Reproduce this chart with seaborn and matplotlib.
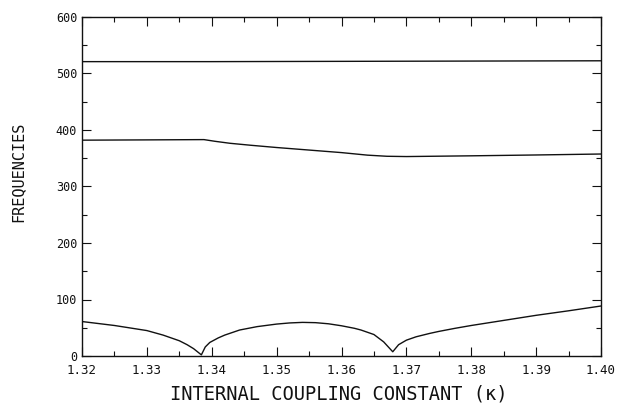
import numpy as np
import pandas as pd
import matplotlib
matplotlib.use("Agg")
import matplotlib.pyplot as plt
import seaborn as sns
from matplotlib.ticker import MultipleLocator

# --- data -------------------------------------------------------------------
kappa_high = [1.32, 1.34, 1.36, 1.38, 1.40]
freq_high = [521, 521, 521.5, 522, 522.5]

kappa_mid = [1.32, 1.33, 1.3388, 1.3405, 1.3428, 1.346, 1.35, 1.355, 1.36,
             1.364, 1.367, 1.37, 1.38, 1.39, 1.40]
freq_mid = [382, 382.5, 383, 380, 376.5, 373, 369, 364.5, 360,
            355.5, 353.5, 353, 354.3, 355.8, 357.5]

kappa_low = [1.32, 1.325, 1.33, 1.3325, 1.335, 1.3362, 1.3372, 1.3384,
             1.3390, 1.3397, 1.341, 1.342, 1.3443, 1.347, 1.35, 1.352,
             1.354, 1.356, 1.358, 1.36, 1.362, 1.363, 1.365, 1.3665, 1.3679,
             1.3688, 1.370, 1.3715, 1.3736, 1.375, 1.3775, 1.38, 1.385,
             1.39, 1.395, 1.40]
freq_low = [61, 54, 45, 37, 27, 20, 13, 2,
            16, 24, 32, 37, 46, 52, 56.5, 58.5,
            59.5, 59, 57, 53.5, 49, 46, 38, 25, 7.5,
            20, 28, 34, 40, 43.5, 49, 54, 63,
            72, 80, 88.5]

x_ticks = [1.32, 1.33, 1.34, 1.35, 1.36, 1.37, 1.38, 1.39, 1.40]
y_ticks = [0, 100, 200, 300, 400, 500, 600]

df = pd.concat([
    pd.DataFrame({"kappa": kappa_high, "freq": freq_high, "mode": "high"}),
    pd.DataFrame({"kappa": kappa_mid, "freq": freq_mid, "mode": "mid"}),
    pd.DataFrame({"kappa": kappa_low, "freq": freq_low, "mode": "low"}),
], ignore_index=True)

# --- style ------------------------------------------------------------------
sns.set_style("ticks")
plt.rcParams["font.family"] = ["DejaVu Sans Mono", "DejaVu Sans"]

W, H = 618, 405
fig = plt.figure(figsize=(W / 100, H / 100), dpi=100)
ax = fig.add_axes([82 / W, 1 - 356 / H, (601 - 82) / W, (356 - 17) / H])

sns.lineplot(data=df, x="kappa", y="freq", units="mode", estimator=None,
             sort=False, color="#111111", linewidth=1.0, ax=ax, legend=False)

ax.set_xlim(1.32, 1.40)
ax.set_ylim(0, 600)
ax.set_xticks(x_ticks)
ax.set_xticklabels([f"{t:.2f}" for t in x_ticks])
ax.set_yticks(y_ticks)
ax.set_yticklabels([str(t) for t in y_ticks])
ax.xaxis.set_minor_locator(MultipleLocator(0.005))
ax.yaxis.set_minor_locator(MultipleLocator(50))

ax.tick_params(which="both", direction="in", top=True, right=True,
               color="#111111", width=0.8)
ax.tick_params(which="major", length=6.5)
ax.tick_params(which="minor", length=3.5)
ax.tick_params(axis="x", which="major", pad=5.5, labelsize=9, labelcolor="#111111")
ax.tick_params(axis="y", which="major", pad=3.5, labelsize=8.5, labelcolor="#111111")

for sp in ax.spines.values():
    sp.set_linewidth(1.0)
    sp.set_color("#111111")

ax.set_xlabel("INTERNAL COUPLING CONSTANT (\u03ba)", fontsize=13.5,
              color="#111111", va="center", ha="center")
ax.xaxis.set_label_coords(0.494, (356 - 394.5) / 339)
ax.set_ylabel("FREQUENCIES", fontsize=11, color="#111111",
              va="center", ha="center")
ax.yaxis.set_label_coords((17.5 - 82) / 519, (356 - 171.5) / 339)

fig.savefig("out.png", dpi=100)
